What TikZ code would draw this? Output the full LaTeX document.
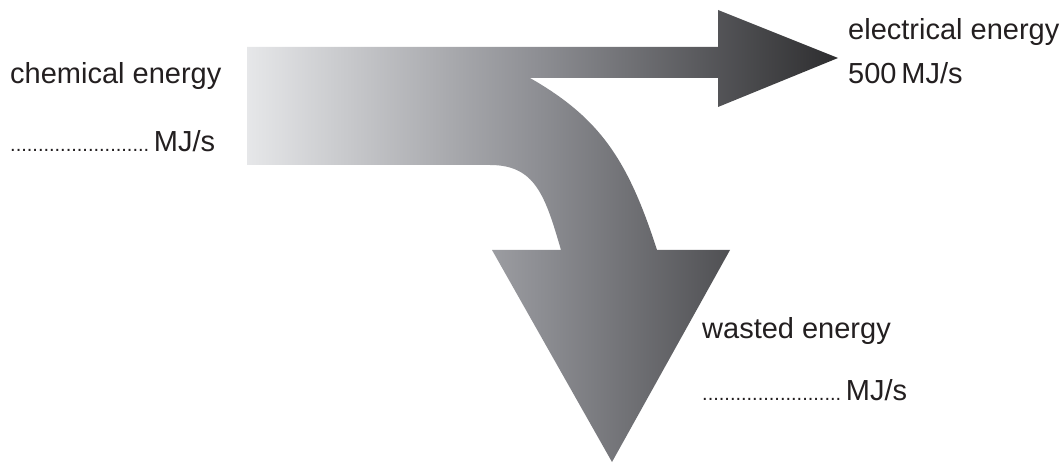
\documentclass[tikz,border=0pt]{standalone}
\usepackage{fontspec}
\setmainfont{Liberation Sans}
\definecolor{flowlight}{RGB}{230,231,233}
\definecolor{flowmid}{RGB}{140,141,146}
\definecolor{flowdark}{RGB}{45,45,47}
\definecolor{ink}{RGB}{35,31,32}
\tikzset{
  label/.style={anchor=base west,inner sep=0pt,text=ink,font=\fontsize{29}{33}\selectfont},
  flow/.style={left color=flowlight,right color=flowdark,middle color=flowmid}
}
\newcommand{\blank}{{\fontsize{20}{20}\selectfont .........................}}
\begin{document}
\begin{tikzpicture}[x=1pt,y=-1pt]
\useasboundingbox (0,0) rectangle (1063,465);

% Energy flow band with its two arrowheads
\shade[flow] (247,47) -- (718,47) -- (718,10) -- (838,58) -- (718,107) -- (718,78)
  -- (530,78) .. controls (600,118) and (628,160) .. (657,250)
  -- (730,250) -- (612,462) -- (492,250) -- (561,250)
  .. controls (545,195) and (535,165) .. (490,165)
  -- (247,165) -- cycle;

% Input
\node[label] (chem) at (10,84) {chemical energy};
\node[label] (chemval) at (10,152) {\blank\,MJ/s};

% Useful output
\node[label] (elec) at (848,40) {electrical energy};
\node[label] (elecval) at (848,84) {500\,MJ/s};

% Wasted output
\node[label] (waste) at (702,338) {wasted energy};
\node[label] (wasteval) at (702,400) {\blank\,MJ/s};

\end{tikzpicture}
\end{document}
